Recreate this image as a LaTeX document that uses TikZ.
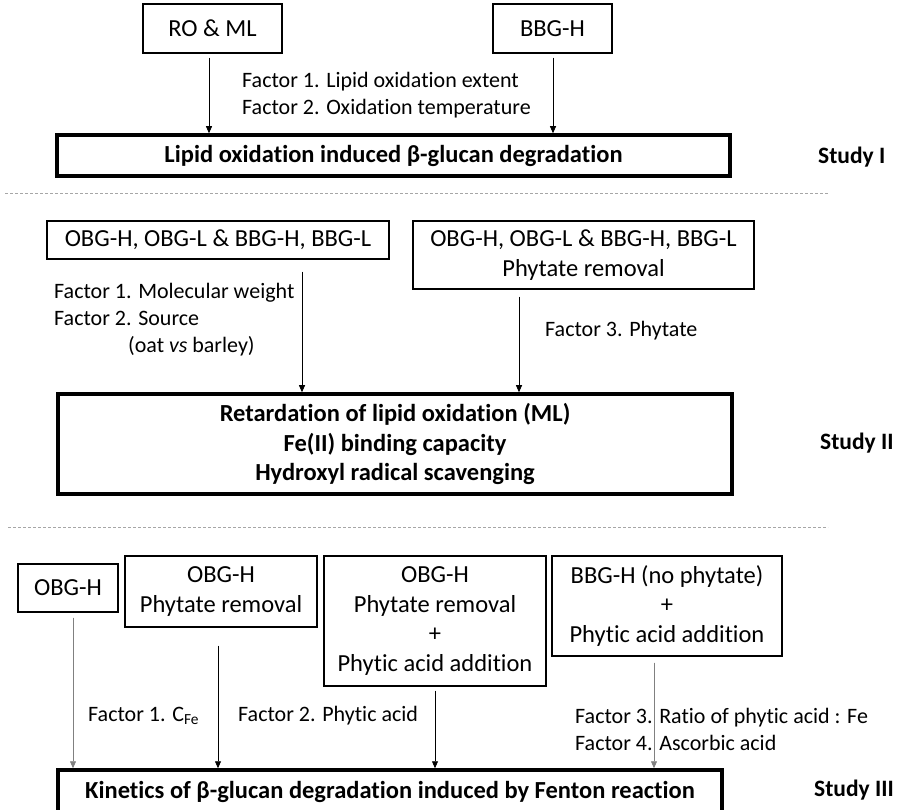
\documentclass[tikz,border=0pt]{standalone}
\usepackage{fontspec}
\setmainfont[Ligatures=NoCommon]{Carlito}
\usetikzlibrary{arrows.meta,calc}
\begin{document}
\begin{tikzpicture}[x=1pt,y=-1pt,
  every node/.style={inner sep=0pt},
  thinbox/.style={draw, line width=1.1pt, rectangle, align=center, font=\fontsize{24.5}{29.5}\selectfont},
  thickbox/.style={draw, line width=3.5pt, rectangle, align=center, font=\fontsize{24.5}{29.5}\selectfont\bfseries},
  arr/.style={-{Triangle[length=7pt,width=6pt]}, line width=0.8pt},
  grayarr/.style={arr, draw=black!50, fill=black!50},
  lbl/.style={anchor=west, align=left, font=\fontsize{22}{27}\selectfont},
  studylbl/.style={anchor=west, font=\fontsize{23.5}{28}\selectfont\bfseries},
  sep/.style={draw=black!35, dash pattern=on 3pt off 2pt, line width=0.8pt}]
\useasboundingbox (0,0) rectangle (906,810);

% ---------- Study I ----------
\node[thinbox, minimum width=139, minimum height=49] (roml) at (212.5,28.5) {RO \& ML};
\node[thinbox, minimum width=119, minimum height=49] (bbgh) at (552.5,28.5) {BBG-H};
\node[thickbox, minimum width=673, minimum height=41] (s1) at (393.5,155.5) {Lipid oxidation induced β-glucan degradation};
\node[lbl] (f1) at (242,95) {Factor 1. Lipid oxidation extent\\Factor 2. Oxidation temperature};
\node[studylbl] (st1) at (818,157) {Study I};

\path ([xshift=-3.5pt]roml.south) coordinate (a1x);
\path ([xshift=0.5pt]bbgh.south) coordinate (a2x);
\draw[arr] ([yshift=-4pt]a1x) -- (a1x |- s1.north);
\draw[arr] ([yshift=-4pt]a2x) -- (a2x |- s1.north);

\draw[sep] (5,193) -- (828,193);

% ---------- Study II ----------
\node[thinbox, minimum width=342, minimum height=38] (ma) at (218,240) {OBG-H, OBG-L \& BBG-H, BBG-L};
\node[thinbox, minimum width=341, minimum height=68] (mb) at (583.5,255) {OBG-H, OBG-L \& BBG-H, BBG-L\\Phytate removal};
\node[thickbox, minimum width=674, minimum height=100] (s2) at (395,444) {Retardation of lipid oxidation (ML)\\Fe(II) binding capacity\\Hydroxyl radical scavenging};
\node[lbl] (f2a) at (54,320) {Factor 1. Molecular weight\\Factor 2. Source\\\hspace*{74pt}(oat \textit{vs} barley)};
\node[lbl] (f2b) at (545,331) {Factor 3. Phytate};
\node[studylbl] (st2) at (820,443) {Study II};

\path ([xshift=84pt]ma.south) coordinate (a3x);
\path ([xshift=-64.5pt]mb.south) coordinate (a4x);
\draw[arr] ([yshift=-12pt]a3x) -- (a3x |- s2.north);
\draw[arr] ([yshift=-7pt]a4x) -- (a4x |- s2.north);

\draw[sep] (8,527) -- (828,527);

% ---------- Study III ----------
\node[thinbox, minimum width=100, minimum height=48] (b1) at (68,588) {OBG-H};
\node[thinbox, minimum width=192, minimum height=71] (b2) at (221,591.5) {OBG-H\\Phytate removal};
\node[thinbox, minimum width=222, minimum height=130] (b3) at (435,621) {OBG-H\\Phytate removal\\+\\Phytic acid addition};
\node[thinbox, minimum width=230, minimum height=100] (b4) at (667,606) {BBG-H (no phytate)\\+\\Phytic acid addition};
\node[thickbox, minimum width=664, minimum height=44] (s3) at (390,792) {Kinetics of β-glucan degradation induced by Fenton reaction};
\node[lbl] (f3a) at (88,716) {Factor 1. C\textsubscript{Fe}};
\node[lbl] (f3b) at (238,716) {Factor 2. Phytic acid};
\node[lbl] (f3c) at (575,729) {Factor 3. Ratio of phytic acid : Fe\\Factor 4. Ascorbic acid};
\node[studylbl] (st3) at (814,790) {Study III};

\path ([xshift=5pt]b1.south) coordinate (b1x);
\path ([xshift=-3pt]b2.south) coordinate (b2x);
\path (b3.south) coordinate (b3x);
\path ([xshift=-13pt]b4.south) coordinate (b4x);
\draw[grayarr] ([yshift=-5pt]b1x) -- (b1x |- s3.north);
\draw[arr] ([yshift=-18pt]b2x) -- (b2x |- s3.north);
\draw[arr] ([yshift=-4pt]b3x) -- (b3x |- s3.north);
\draw[grayarr] ([yshift=-6pt]b4x) -- (b4x |- s3.north);
\end{tikzpicture}
\end{document}
